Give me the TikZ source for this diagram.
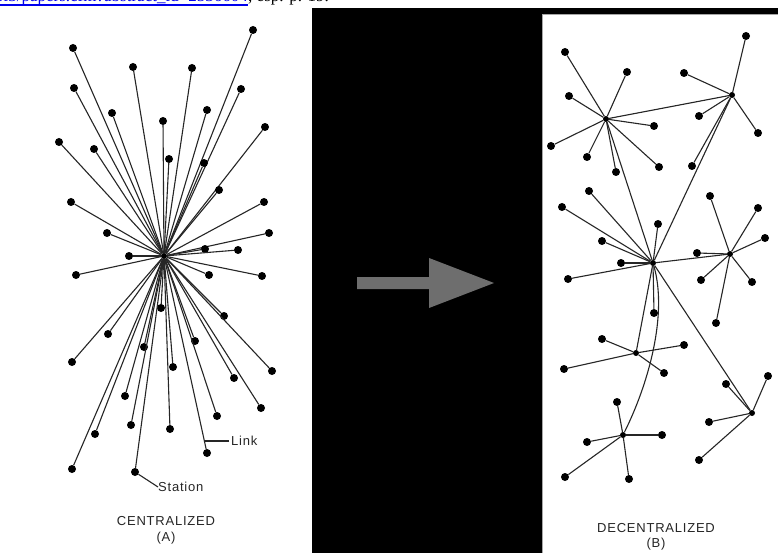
\documentclass[tikz,border=0pt]{standalone}
\usepackage{fontspec}
\setmainfont{Liberation Serif}
\newfontfamily\letfont[LetterSpace=6]{Liberation Sans}

\definecolor{linkblue}{RGB}{0,0,238}
\definecolor{arrowgray}{RGB}{110,110,110}

\tikzset{
  station/.style={circle,fill=black,inner sep=0pt,minimum size=8pt},
  hub/.style={circle,fill=black,inner sep=0pt,minimum size=6pt},
  link/.style={draw=black!85,line width=1.1pt},
  caption/.style={font=\letfont\fontsize{13}{15}\selectfont,text=black!85,inner sep=0pt},
}

\begin{document}
\begin{tikzpicture}[x=1pt,y=-1pt]
  \useasboundingbox (0,0) rectangle (778,553);

  % --- Backgrounds ---
  \fill[white] (0,0) rectangle (778,553);
  \fill[black] (312,8) rectangle (542,553);
  \fill[black] (542,8) rectangle (778,14);
  \draw[gray!70,line width=0.8pt] (542.5,553) -- (542.5,14.5) -- (778,14.5);

  % --- Citation line, cut off at the top edge ---
  \begin{scope}
    \clip (0,0) rectangle (400,8);
    \node[anchor=base east,inner sep=0pt,text=linkblue,font=\fontsize{17}{19}\selectfont]
      (cite) at (248,2) {http://papers.ssrn.com/sol3/papers.cfm?abstract\_id=2536604};
    \node[anchor=base west,inner sep=0pt,font=\fontsize{17}{19}\selectfont]
      (citeend) at (cite.base east) {, esp. p. 19.};
    \draw[linkblue,line width=1.6pt] ([yshift=-2.8pt]cite.base west) -- ([yshift=-2.8pt]cite.base east);
  \end{scope}

  % =========================
  % Centralized network (A)
  % =========================
  \node[hub] (ctr) at (164,256) {};
  \foreach \x/\y [count=\i] in {253/30, 73/48, 133/67, 192/68, 74/88, 241/89,
      112/113, 207/110, 163/121, 265/127, 59/142, 94/149, 169/159, 204/163,
      219/190, 71/202, 264/202, 107/233, 269/233, 205/249, 238/250, 129/256,
      76/275, 209/275, 262/276, 161/308, 224/316, 108/334, 195/341, 144/347,
      72/362, 173/367, 272/371, 234/378, 125/396, 261/408, 217/416, 131/425,
      95/434, 170/429, 72/469, 207/453, 135/472} {
    \node[station] (a\i) at (\x,\y) {};
    \draw[link] (ctr) -- (a\i);
  }

  % --- Labels ---
  \path (ctr) -- (a42) coordinate[pos=0.955] (linkpt);
  \node[caption,anchor=west] (linklbl) at (231,441) {Link};
  \draw[link] ([xshift=-2pt]linklbl.west) -- (linklbl.west -| linkpt);
  \node[caption,anchor=west] (stationlbl) at (158,487) {Station};
  \draw[link] (a43) -- (stationlbl.west);

  \node[caption] (capA) at (166,521) {CENTRALIZED};
  \node[caption] (capAsub) at (166,538) {(A)};

  % --- Arrow between the two panels ---
  \fill[arrowgray] (357,277) -- (429,277) -- (429,258) -- (494,283)
                -- (429,308) -- (429,289) -- (357,289) -- cycle;

  % =========================
  % Decentralized network (B)
  % =========================
  \node[hub] (hA) at (732,95) {};
  \node[hub] (hB) at (606,119) {};
  \node[hub] (hC) at (653,263) {};
  \node[hub] (hD) at (730,254) {};
  \node[hub] (hE) at (636,353) {};
  \node[hub] (hF) at (752,413) {};
  \node[hub] (hG) at (623,435) {};

  % links between hubs
  \draw[link] (hB) -- (hA);
  \draw[link] (hB) -- (hC);
  \draw[link] (hA) -- (hC);
  \draw[link] (hC) -- (hD);
  \draw[link] (hC) -- (hE);
  \draw[link] (hC) -- (hF);
  \draw[link] (hG) .. controls (648,385) and (668,315) .. (hC);

  % stations around each hub
  \foreach \x/\y [count=\i] in {746/36, 684/73, 699/116, 758/133, 692/166} {
    \node[station] (hA-\i) at (\x,\y) {};
    \draw[link] (hA) -- (hA-\i);
  }
  \foreach \x/\y [count=\i] in {565/52, 627/72, 569/96, 654/126, 551/146,
      587/157, 659/167, 616/172} {
    \node[station] (hB-\i) at (\x,\y) {};
    \draw[link] (hB) -- (hB-\i);
  }
  \foreach \x/\y [count=\i] in {589/191, 562/207, 658/224, 602/241, 621/263,
      568/279, 654/313} {
    \node[station] (hC-\i) at (\x,\y) {};
    \draw[link] (hC) -- (hC-\i);
  }
  \foreach \x/\y [count=\i] in {710/196, 758/208, 765/238, 697/253, 701/280,
      752/282, 716/323} {
    \node[station] (hD-\i) at (\x,\y) {};
    \draw[link] (hD) -- (hD-\i);
  }
  \foreach \x/\y [count=\i] in {602/339, 684/345, 564/369, 664/373} {
    \node[station] (hE-\i) at (\x,\y) {};
    \draw[link] (hE) -- (hE-\i);
  }
  \foreach \x/\y [count=\i] in {768/376, 726/384, 709/422, 699/460} {
    \node[station] (hF-\i) at (\x,\y) {};
    \draw[link] (hF) -- (hF-\i);
  }
  \foreach \x/\y [count=\i] in {617/402, 587/442, 662/435, 565/477, 629/479} {
    \node[station] (hG-\i) at (\x,\y) {};
    \draw[link] (hG) -- (hG-\i);
  }

  % --- Labels ---
  \node[caption] (capB) at (656,528) {DECENTRALIZED};
  \node[caption] (capBsub) at (656,544) {(B)};
\end{tikzpicture}
\end{document}
